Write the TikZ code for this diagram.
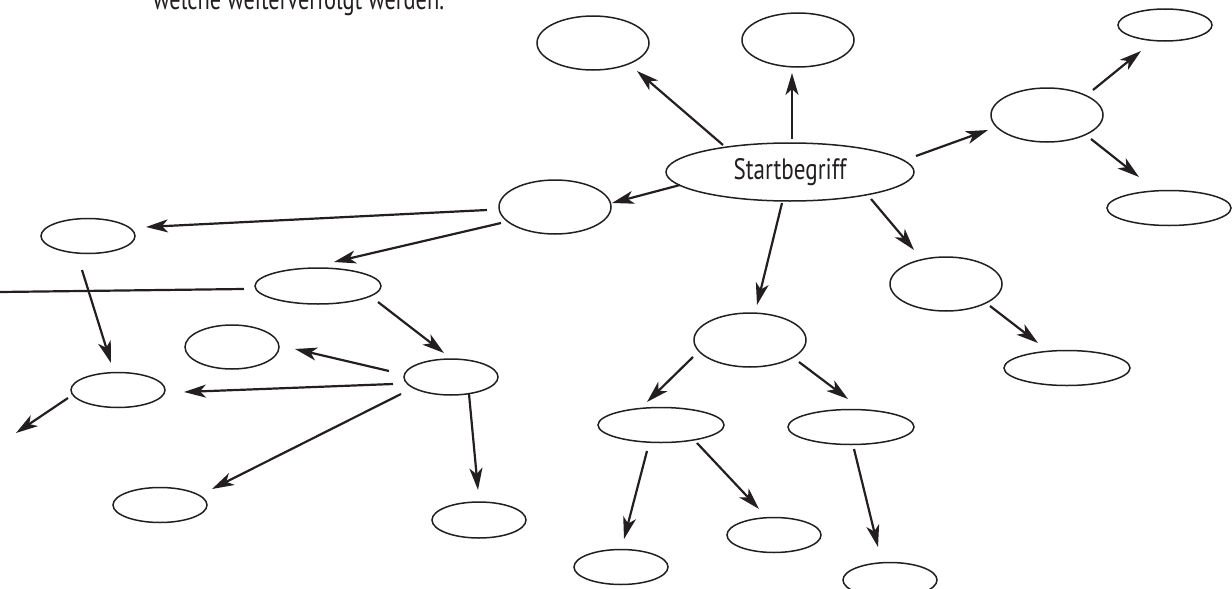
\documentclass[tikz,border=0pt]{standalone}
\usepackage{fontspec}
\setmainfont{PT Sans}
\usetikzlibrary{shapes.geometric,arrows.meta}
\definecolor{ink}{HTML}{231F20}
\tikzset{
  ell/.style={draw=ink, line width=1.5pt, shape=ellipse, inner sep=0pt, fill=white},
  arr/.style={draw=ink, line width=2.2pt, -{Stealth[length=22pt,width=13pt,inset=6pt]}},
  plain/.style={draw=ink, line width=2.2pt},
  lbl/.style={text=ink, inner sep=0pt}
}
\newcommand{\ellnode}[5]{\node[ell, minimum width=#4pt, minimum height=#5pt] (#1) at (#2,#3) {};}
\newcommand{\conn}[4]{\draw[arr] ([shift={(#2)}]#1.center) -- ([shift={(#4)}]#3.center);}
\begin{document}
\begin{tikzpicture}[x=1pt,y=-1pt]
\useasboundingbox (0,0) rectangle (1232,589);

% top text (cut off at the top)
\node[lbl, anchor=base west] (toptext) at (153,9.5) {\resizebox{291pt}{21pt}{welche weiterverfolgt werden.}};

% start node
\node[ell, minimum width=248pt, minimum height=58pt, text=ink] (s) at (790,172) {\resizebox{113pt}{21pt}{Startbegriff}};

\ellnode{e1}{593}{43}{112}{54}
\ellnode{e2}{798}{40}{112}{54}
\ellnode{e3}{1165}{25}{94}{32}
\ellnode{e4}{1047}{115}{112}{54}
\ellnode{e5}{1169}{208}{124}{35}
\ellnode{e7}{555}{207}{112}{54}
\ellnode{e8}{88}{236}{94}{35}
\ellnode{e9}{318}{286}{126}{36}
\ellnode{e10}{946}{284}{112}{54}
\ellnode{e11}{1067}{368}{126}{35}
\ellnode{e12}{750}{340}{112}{54}
\ellnode{e13}{232}{347}{94}{44}
\ellnode{e14}{451}{377}{94}{36}
\ellnode{e15}{118}{390}{94}{35}
\ellnode{e16}{661}{425}{126}{35}
\ellnode{e17}{851}{427}{126}{35}
\ellnode{e18}{160}{505}{94}{35}
\ellnode{e19}{479}{520}{94}{36}
\ellnode{e20}{774}{535}{94}{35}
\ellnode{e21}{621}{567}{94}{35}
\ellnode{e22}{890}{580}{94}{35}

\coordinate (L1) at (0,292);
\coordinate (L2) at (16,433);

% connectors
\conn{s}{-67,-27}{e1}{44,28}
\conn{s}{2,-33}{e2}{-6,33}
\conn{s}{126,-16}{e4}{-59,15}
\conn{e4}{46,-25}{e3}{-24,26}
\conn{e4}{44,24}{e5}{-30,-31}
\conn{s}{-110,13}{e7}{57,-4}
\conn{s}{-8,31}{e12}{7,-35}
\conn{s}{81,27}{e10}{-32,-34}
\conn{e10}{44,22}{e11}{-29,-25}
\conn{e7}{-68,3}{e8}{58,-9}
\conn{e7}{-54,16}{e9}{16,-24}
\draw[plain] ([shift={(-74,3)}]e9.center) -- (L1);
\conn{e8}{-6,34}{e15}{-7,-27}
\conn{e9}{60,16}{e14}{-7,-24}
\conn{e14}{-62,-6}{e13}{63,2}
\conn{e14}{-58,7}{e15}{66,2}
\conn{e14}{-50,17}{e18}{52,-16}
\conn{e14}{18,17}{e19}{-1,-30}
\draw[arr] ([shift={(-50,8)}]e15.center) -- (L2);
\conn{e12}{-57,17}{e16}{-14,-23}
\conn{e12}{49,22}{e17}{-3,-28}
\conn{e16}{-14,26}{e21}{3,-28}
\conn{e16}{36,18}{e20}{-15,-26}
\conn{e17}{3,22}{e22}{-12,-33}
\end{tikzpicture}
\end{document}
